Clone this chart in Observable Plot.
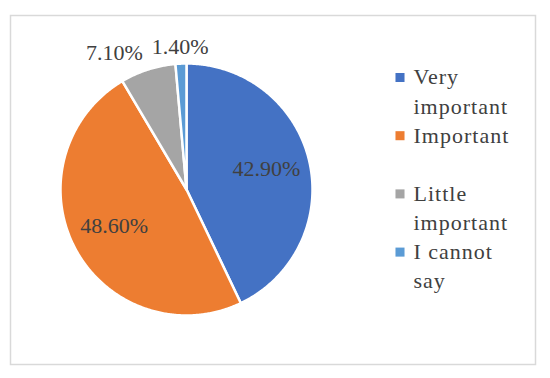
<!DOCTYPE html>
<html><head><meta charset="utf-8">
<script src="https://cdn.jsdelivr.net/npm/d3@7"></script>
<script src="https://cdn.jsdelivr.net/npm/@observablehq/plot@0.6"></script>
<style>body{margin:0;background:#fff}</style>
</head><body><div id="chart"></div>
<script>
// ---- data ----
const categories = ["Very important", "Important", "Little important", "I cannot say"];
const shares = [42.9, 48.6, 7.1, 1.4];
const valueLabels = ["42.90%", "48.60%", "7.10%", "1.40%"];
const colors = ["#4472C4", "#ED7D31", "#A5A5A5", "#5B9BD5"];

// ---- layout (pixel coordinates on identity scales) ----
const W = 550, H = 378;
const cx = 186, cy = 189, R = 126;
const textColor = "#404040";
const labelSize = 22, legendSize = 22, legendLH = 1.32;

const rows = categories.map((c, i) => ({category: c, share: shares[i], label: valueLabels[i]}));
const arcs = d3.pie().sort(null).value(d => d.share)(rows);

// slice polygons
const slicePts = [];
for (const a of arcs) {
  const c = a.data.category;
  slicePts.push({category: c, x: cx, y: cy});
  const n = Math.max(2, Math.ceil((a.endAngle - a.startAngle) / (Math.PI / 360)));
  for (let k = 0; k <= n; k++) {
    const t = a.startAngle + (a.endAngle - a.startAngle) * k / n;
    slicePts.push({category: c, x: cx + R * Math.sin(t), y: cy - R * Math.cos(t)});
  }
}

// value labels
const labels = arcs.map(a => {
  const mid = (a.startAngle + a.endAngle) / 2;
  const inside = a.data.share > 10;
  const r = inside ? R * 0.65 : R + 17;
  return {
    label: a.data.label,
    x: cx + r * Math.sin(mid),
    y: cy - r * Math.cos(mid) - (inside ? 2 : 0),
    inside,
    anchor: (!inside && Math.sin(mid) < -0.2) ? "end" : "middle"
  };
});

// legend
const legX = 399.5, legTextX = 413, legBase0 = 84, legStep = 58.2;
const legend = categories.map((c, i) => ({
  category: c,
  sx: legX, sy: legBase0 + i * legStep - 7,
  tx: legTextX, ty: legBase0 + i * legStep - 0.71 * legendLH * legendSize
}));

const chart = Plot.plot({
  width: W, height: H,
  marginLeft: 10, marginTop: 15, marginRight: 15, marginBottom: 14,
  x: {domain: [10, 535], axis: null},
  y: {domain: [15, 364], reverse: true, axis: null},
  color: {domain: categories, range: colors},
  style: {fontFamily: "'Liberation Serif', serif", background: "white", overflow: "visible"},
  marks: [
    Plot.frame({stroke: "#d9d9d9", strokeWidth: 1.5}),
    Plot.line(slicePts, {x: "x", y: "y", z: "category", fill: "category", stroke: "white", strokeWidth: 2.5, strokeLinejoin: "round", curve: "linear-closed"}),
    Plot.text(labels.filter(d => d.anchor === "middle"), {x: "x", y: "y", text: "label", fill: textColor, fontSize: labelSize, textAnchor: "middle", lineAnchor: "middle"}),
    Plot.text(labels.filter(d => d.anchor === "end"), {x: "x", y: "y", text: "label", fill: textColor, fontSize: labelSize, textAnchor: "end", lineAnchor: "middle"}),
    Plot.dot(legend, {x: "sx", y: "sy", fill: "category", symbol: "square", r: 5.1, stroke: null}),
    Plot.text(legend, {x: "tx", y: "ty", text: "category", fill: textColor, fontSize: legendSize, textAnchor: "start", lineAnchor: "top", lineWidth: 5, lineHeight: legendLH, style: {letterSpacing: "1px"}})
  ]
});
chart.querySelectorAll("text").forEach(t => { if (t.closest("g") && t.textContent.match(/[a-z]/)) t.style.letterSpacing = "1px"; });
document.getElementById("chart").appendChild(chart);
</script>
</body></html>
